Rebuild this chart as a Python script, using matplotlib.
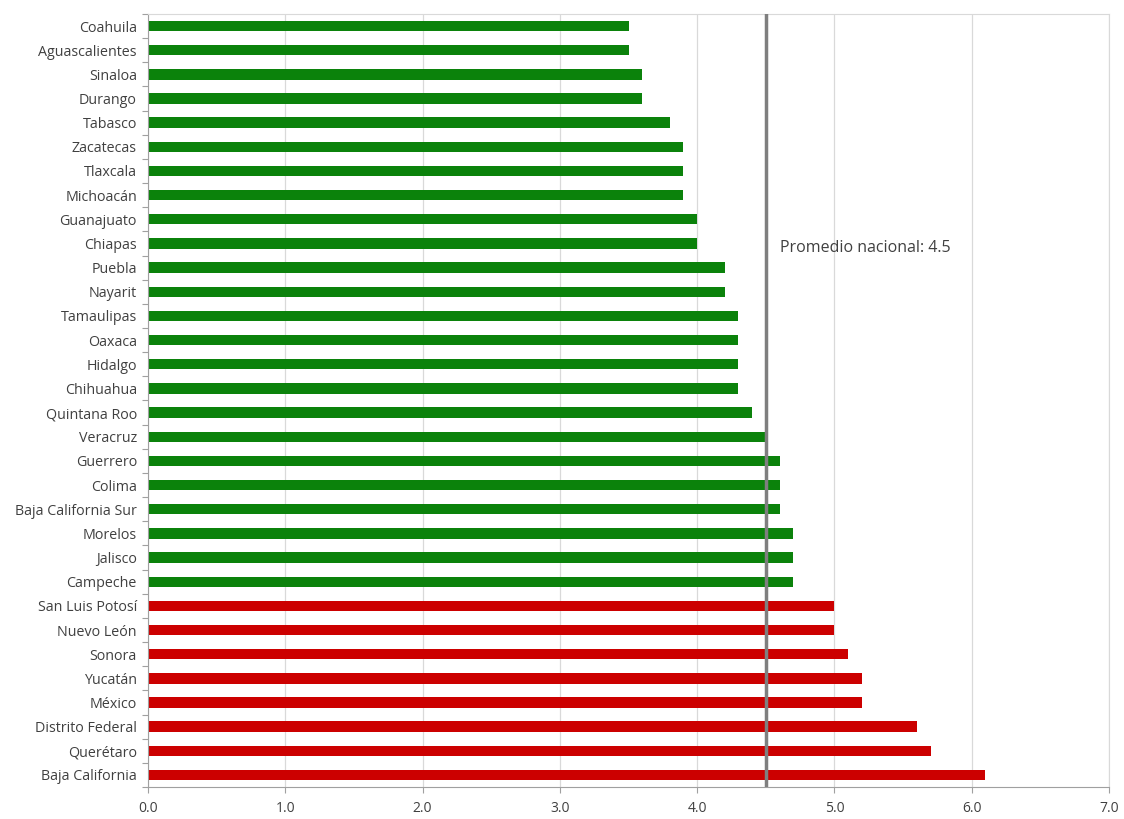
import matplotlib
matplotlib.use("Agg")
import matplotlib.pyplot as plt
import numpy as np

# entidades ordenadas de arriba hacia abajo
estados = [
    "Coahuila", "Aguascalientes", "Sinaloa", "Durango", "Tabasco", "Zacatecas",
    "Tlaxcala", "Michoacán", "Guanajuato", "Chiapas", "Puebla", "Nayarit",
    "Tamaulipas", "Oaxaca", "Hidalgo", "Chihuahua", "Quintana Roo", "Veracruz",
    "Guerrero", "Colima", "Baja California Sur", "Morelos", "Jalisco", "Campeche",
    "San Luis Potosí", "Nuevo León", "Sonora", "Yucatán", "México",
    "Distrito Federal", "Querétaro", "Baja California",
]
valores = [
    3.5, 3.5, 3.6, 3.6, 3.8, 3.9, 3.9, 3.9, 4.0, 4.0, 4.2, 4.2,
    4.3, 4.3, 4.3, 4.3, 4.4, 4.5, 4.6, 4.6, 4.6, 4.7, 4.7, 4.7,
    5.0, 5.0, 5.1, 5.2, 5.2, 5.6, 5.7, 6.1,
]
promedio = 4.5
xticks = [0, 1, 2, 3, 4, 5, 6, 7]

plt.rcParams['font.family'] = ['Open Sans', 'DejaVu Sans']

verde = "#0B820B"
rojo = "#CC0000"
colores = [rojo if v > 4.9 else verde for v in valores]

fig = plt.figure(figsize=(11.24, 8.19), dpi=100)
ax = fig.add_axes([0.1317, 0.039, 0.855, 0.944])

y = np.arange(len(estados))
ax.barh(y, valores, height=0.43, color=colores, zorder=2)
ax.set_ylim(len(estados) - 0.5, -0.5)
ax.set_xlim(0, 7)

ax.set_yticks(y)
ax.set_yticklabels(estados, fontsize=10.3, color="#404040")
ax.set_yticks(np.arange(-0.5, len(estados)), minor=True)
ax.tick_params(axis="y", which="major", length=0, pad=8)
ax.tick_params(axis="y", which="minor", length=4, color="#A0A0A0", width=0.8)

ax.set_xticks(xticks)
ax.set_xticklabels([f"{t:.1f}" for t in xticks], fontsize=10, color="#404040")
ax.tick_params(axis="x", length=4, color="#A0A0A0", width=0.8, pad=6)

ax.grid(axis="x", color="#D9D9D9", linewidth=0.9, zorder=0)
for lado in ["top", "right"]:
    ax.spines[lado].set_color("#D9D9D9")
ax.spines["left"].set_color("#A0A0A0")
ax.spines["bottom"].set_color("#A0A0A0")

ax.axvline(promedio, color="#7F7F7F", linewidth=2.5, zorder=3)
ax.text(promedio + 0.1, 9.2, f"Promedio nacional: {promedio}", fontsize=11.5,
        color="#404040", va="center", ha="left")

fig.savefig("out.png", dpi=100)
